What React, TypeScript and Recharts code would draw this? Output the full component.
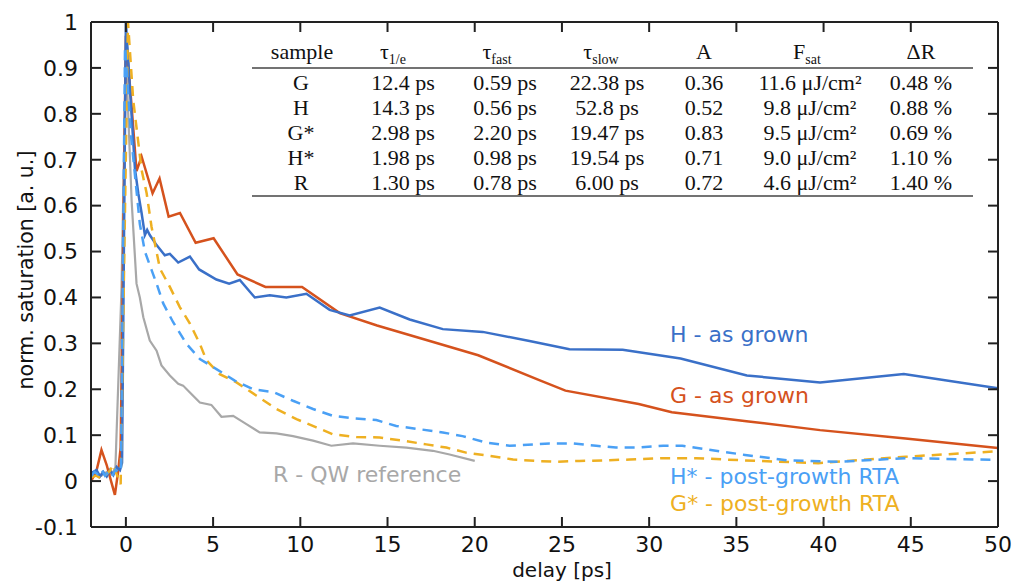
import { LineChart, Line, XAxis, YAxis, ReferenceDot } from "recharts";

// delay [ps] / normalized saturation
const hDelay = [-2, -1.68, -1.49, -1.3, -1.1, -0.91, -0.72, -0.53, -0.34, -0.22, 0, 0.33, 0.52, 0.71, 0.9, 1.09, 1.22, 1.37, 1.76, 2.23, 2.52, 3.0, 3.67, 4.2, 5.19, 5.92, 6.53, 7.39, 8.25, 9.2, 10.35, 11.68, 12.83, 14.55, 16.27, 18.17, 20.46, 23.14, 25.43, 28.48, 31.8, 35.6, 39.8, 44.6, 50];
const hSat = [0.017, 0.024, 0.01, 0.02, 0.01, 0.024, 0.013, 0.031, 0.024, 0.04, 1.0, 0.795, 0.68, 0.627, 0.584, 0.536, 0.547, 0.536, 0.514, 0.492, 0.495, 0.476, 0.489, 0.461, 0.439, 0.43, 0.438, 0.4, 0.405, 0.4, 0.408, 0.373, 0.361, 0.378, 0.352, 0.331, 0.325, 0.305, 0.287, 0.286, 0.267, 0.23, 0.215, 0.233, 0.202];

const gDelay = [-2, -1.7, -1.4, -1.1, -0.85, -0.63, -0.44, -0.3, 0, 0.3, 0.61, 0.9, 1.53, 1.93, 2.45, 3.1, 4.0, 5.03, 6.4, 8.0, 10.1, 12.26, 14.4, 20.2, 23.7, 25.2, 29.4, 31.3, 35.7, 39.8, 44.7, 50];
const gSat = [0.0, 0.02, 0.068, 0.035, 0.0, -0.03, 0.022, 0.073, 0.97, 0.83, 0.675, 0.707, 0.627, 0.659, 0.576, 0.584, 0.519, 0.529, 0.45, 0.423, 0.423, 0.366, 0.339, 0.274, 0.22, 0.197, 0.168, 0.15, 0.13, 0.111, 0.093, 0.072];

const hStarDelay = [-2, -1.8, -1.6, -1.4, -1.2, -1.0, -0.8, -0.6, -0.4, -0.28, -0.05, 0.3, 0.8, 1.09, 1.47, 1.76, 2.14, 2.71, 3.47, 4.24, 5.19, 6.24, 7.29, 8.44, 9.58, 10.73, 11.87, 13.02, 14.36, 15.5, 16.84, 18.17, 19.3, 20.66, 22, 24.3, 25.6, 26.96, 28.1, 29.4, 30.8, 31.9, 33.3, 35.5, 38, 40.9, 44.7, 50];
const hStarSat = [0.01, 0.02, 0.015, 0.025, 0.012, 0.02, 0.01, 0.025, 0.018, 0.03, 0.946, 0.75, 0.56, 0.5, 0.46, 0.43, 0.387, 0.346, 0.299, 0.266, 0.244, 0.219, 0.2, 0.194, 0.175, 0.157, 0.142, 0.137, 0.133, 0.12, 0.113, 0.106, 0.098, 0.084, 0.077, 0.082, 0.082, 0.077, 0.073, 0.073, 0.077, 0.077, 0.069, 0.057, 0.045, 0.042, 0.05, 0.046];

const gStarDelay = [-2, -1.7, -1.4, -1.1, -0.92, -0.73, -0.5, -0.3, 0.12, 0.42, 0.9, 1.19, 1.47, 1.95, 2.52, 3.09, 3.67, 4.24, 4.62, 5.38, 6.34, 7.49, 8.63, 9.78, 10.92, 11.87, 13.21, 14.55, 15.88, 17.22, 18.37, 19.5, 20.85, 22.2, 23.5, 24.67, 26, 27.3, 28.9, 30.8, 32.7, 35.5, 39.7, 44.7, 50];
const gStarSat = [0.008, 0.012, 0.005, 0.015, 0.022, 0.036, 0.012, -0.007, 1.0, 0.83, 0.678, 0.627, 0.554, 0.463, 0.423, 0.379, 0.343, 0.299, 0.263, 0.233, 0.215, 0.186, 0.157, 0.135, 0.117, 0.102, 0.096, 0.095, 0.088, 0.08, 0.073, 0.062, 0.055, 0.047, 0.044, 0.042, 0.044, 0.045, 0.047, 0.05, 0.05, 0.045, 0.039, 0.053, 0.065];

const rDelay = [-2, -1.7, -1.4, -1.1, -0.8, -0.6, -0.25, 0, 0.33, 0.61, 0.8, 1.0, 1.37, 1.76, 2.04, 2.52, 3.0, 3.28, 3.67, 4.24, 4.9, 5.48, 6.15, 6.91, 7.67, 8.63, 9.58, 10.73, 11.78, 13.02, 14.55, 16.08, 17.6, 18.56, 20];
const rSat = [0.015, 0.02, 0.012, 0.02, 0.015, 0.03, 0.42, 0.93, 0.61, 0.43, 0.4, 0.357, 0.306, 0.284, 0.252, 0.23, 0.212, 0.208, 0.193, 0.171, 0.166, 0.14, 0.142, 0.124, 0.106, 0.104, 0.098, 0.088, 0.077, 0.082, 0.077, 0.073, 0.066, 0.058, 0.044];

const xTicks = [0, 5, 10, 15, 20, 25, 30, 35, 40, 45, 50];
const yTicks = [-0.1, 0, 0.1, 0.2, 0.3, 0.4, 0.5, 0.6, 0.7, 0.8, 0.9, 1];

// table in the upper right
const samples = ["G", "H", "G*", "H*", "R"];
const tau1e = ["12.4 ps", "14.3 ps", "2.98 ps", "1.98 ps", "1.30 ps"];
const tauFast = ["0.59 ps", "0.56 ps", "2.20 ps", "0.98 ps", "0.78 ps"];
const tauSlow = ["22.38 ps", "52.8 ps", "19.47 ps", "19.54 ps", "6.00 ps"];
const ampA = ["0.36", "0.52", "0.83", "0.71", "0.72"];
const fSat = ["11.6 μJ/cm²", "9.8 μJ/cm²", "9.5 μJ/cm²", "9.0 μJ/cm²", "4.6 μJ/cm²"];
const deltaR = ["0.48 %", "0.88 %", "0.69 %", "1.10 %", "1.40 %"];

const zip = (t: number[], v: number[]) => t.map((d, i) => ({ t: d, v: v[i] }));

const C_H = "#3a70c8";
const C_G = "#d5521d";
const C_HS = "#4aa0f5";
const C_GS = "#eeb022";
const C_R = "#a8a8a8";

const sans = "DejaVu Sans";
const serif = "Liberation Serif";

const notes = [
  { text: "H - as grown", x: 31.2, y: 0.32, color: C_H },
  { text: "G - as grown", x: 31.2, y: 0.187, color: C_G },
  { text: "R - QW reference", x: 8.43, y: 0.015, color: C_R },
  { text: "H* - post-growth RTA", x: 31.2, y: 0.01, color: C_HS },
  { text: "G* - post-growth RTA", x: 31.2, y: -0.048, color: C_GS },
];

function Table() {
  const cols = [
    { hx: 302, vx: 301, vals: samples },
    { hx: 393, vx: 403, vals: tau1e },
    { hx: 497, vx: 505, vals: tauFast },
    { hx: 601, vx: 607, vals: tauSlow },
    { hx: 704, vx: 704, vals: ampA },
    { hx: 807, vx: 810, vals: fSat },
    { hx: 921, vx: 921, vals: deltaR },
  ];
  const sub = { fontSize: 14, dy: 5 } as const;
  const heads = [
    <tspan>sample</tspan>,
    <><tspan>τ</tspan><tspan {...sub}>1/e</tspan></>,
    <><tspan>τ</tspan><tspan {...sub}>fast</tspan></>,
    <><tspan>τ</tspan><tspan {...sub}>slow</tspan></>,
    <tspan>A</tspan>,
    <><tspan>F</tspan><tspan {...sub}>sat</tspan></>,
    <tspan>ΔR</tspan>,
  ];
  return (
    <g fontFamily={serif} fontSize={22} fill="#111">
      {cols.map((c, i) => (
        <text key={"h" + i} x={c.hx} y={59} textAnchor="middle">{heads[i]}</text>
      ))}
      <line x1={252} x2={973} y1={68} y2={68} stroke="#444" strokeWidth={1.5} />
      {cols.map((c, i) =>
        c.vals.map((v, j) => (
          <text key={i + "-" + j} x={c.vx} y={90 + j * 25} textAnchor="middle">{v}</text>
        ))
      )}
      <line x1={252} x2={973} y1={196} y2={196} stroke="#444" strokeWidth={1.5} />
    </g>
  );
}

export default function App() {
  const axisStroke = { stroke: "#222", strokeWidth: 2 };
  const tickStyle = { fontSize: 22, fontFamily: sans, fill: "#111" };
  const fmtY = (v: number) => String(Math.round(v * 10) / 10);
  return (
    <div style={{ position: "absolute", left: 0, top: 0, width: 1014, height: 584, background: "#fff" }}>
      <LineChart width={1014} height={584} margin={{ top: 21, right: 15, left: 0, bottom: 0 }}>
        <XAxis
          type="number"
          dataKey="t"
          domain={[-2, 50]}
          ticks={xTicks}
          interval={0}
          allowDataOverflow
          height={57}
          tickSize={-10}
          tickMargin={19}
          axisLine={axisStroke}
          tickLine={axisStroke}
          tick={tickStyle}
        />
        <XAxis
          xAxisId="top"
          orientation="top"
          type="number"
          dataKey="t"
          domain={[-2, 50]}
          ticks={xTicks}
          interval={0}
          allowDataOverflow
          height={1}
          tickSize={-10}
          tickFormatter={() => ""}
          axisLine={axisStroke}
          tickLine={axisStroke}
        />
        <YAxis
          type="number"
          domain={[-0.1, 1]}
          ticks={yTicks}
          interval={0}
          allowDataOverflow
          width={91}
          tickSize={-10}
          tickMargin={23}
          tickFormatter={fmtY}
          axisLine={axisStroke}
          tickLine={axisStroke}
          tick={tickStyle}
        />
        <YAxis
          yAxisId="right"
          orientation="right"
          type="number"
          domain={[-0.1, 1]}
          ticks={yTicks}
          interval={0}
          allowDataOverflow
          width={1}
          tickSize={-10}
          tickFormatter={() => ""}
          axisLine={axisStroke}
          tickLine={axisStroke}
        />
        <Line data={zip(rDelay, rSat)} dataKey="v" type="linear" stroke={C_R} strokeWidth={2.2} dot={false} isAnimationActive={false} />
        <Line data={zip(gDelay, gSat)} dataKey="v" type="linear" stroke={C_G} strokeWidth={2.5} dot={false} isAnimationActive={false} />
        <Line data={zip(hDelay, hSat)} dataKey="v" type="linear" stroke={C_H} strokeWidth={2.5} dot={false} isAnimationActive={false} />
        <Line data={zip(gStarDelay, gStarSat)} dataKey="v" type="linear" stroke={C_GS} strokeWidth={2.5} strokeDasharray="10 7" dot={false} isAnimationActive={false} />
        <Line data={zip(hStarDelay, hStarSat)} dataKey="v" type="linear" stroke={C_HS} strokeWidth={2.5} strokeDasharray="10 7" dot={false} isAnimationActive={false} />
        {notes.map((n) => (
          <ReferenceDot
            key={n.text}
            x={n.x}
            y={n.y}
            r={0}
            fill="none"
            stroke="none"
            ifOverflow="visible"
            label={{ value: n.text, position: "right", offset: 0, fill: n.color, fontSize: 22, fontFamily: sans }}
          />
        ))}
      </LineChart>
      <svg width={1014} height={584} style={{ position: "absolute", left: 0, top: 0, pointerEvents: "none" }}>
        <Table />
        <text x={33} y={270} transform="rotate(-90 33 270)" textAnchor="middle" fontFamily={sans} fontSize={20.5} fill="#111">
          norm. saturation [a. u.]
        </text>
        <text x={562} y={577} textAnchor="middle" fontFamily={sans} fontSize={20} fill="#111">
          delay [ps]
        </text>
      </svg>
    </div>
  );
}
